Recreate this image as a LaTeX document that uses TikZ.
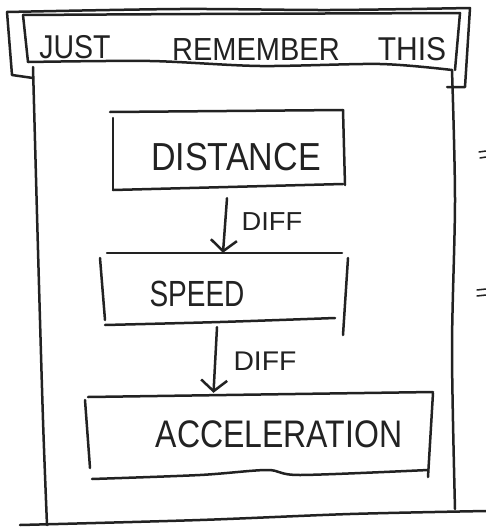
\documentclass[tikz,border=0pt]{standalone}
\usepackage{fontspec}
\setmainfont{Liberation Sans}
\usetikzlibrary{arrows.meta}
\definecolor{ink}{HTML}{222222}
\tikzset{
  pen/.style={draw=ink, line width=2.5pt, line cap=round, line join=round},
  boxnode/.style={draw=none, minimum width=#1, inner sep=0pt},
  lbl/.style={anchor=base, text=ink, inner sep=0pt, font=\fontsize{#1}{#1}\selectfont},
  arr/.style={pen, -{Straight Barb[length=11pt,width=26pt,line width=2.5pt]}},
}
\begin{document}
\begin{tikzpicture}[x=1pt,y=-1pt]
\useasboundingbox (0,0) rectangle (486,530);
\fill[white] (0,0) rectangle (486,530);

% banner: outer frame
\draw[pen] plot[smooth] coordinates {(7,12) (180,9) (330,10) (470,8)};
\draw[pen] (7,12) -- (12,75) -- (33,78);
\draw[pen] (470,8) -- (465,87) -- (447,87);
% banner: inner frame
\draw[pen] plot[smooth] coordinates {(23,15) (200,14) (460,13)};
\draw[pen] (23,15) -- (28,62);
\draw[pen] (460,13) -- (455,70);
\draw[pen] plot[smooth] coordinates {(28,62) (150,61) (260,66) (380,64) (452,70)};
\node[lbl=30] (tjust) at (75,58) {\scalebox{0.95}[1.1]{JUST}};
\node[lbl=29] (trem) at (256,60) {\scalebox{1}[1.1]{REMEMBER}};
\node[lbl=30] (tthis) at (412,60) {\scalebox{1}[1.1]{THIS}};

% main box
\draw[pen] plot[smooth] coordinates {(33,67) (38,250) (43,420) (47,525)};
\draw[pen] plot[smooth] coordinates {(452,70) (455,200) (452,350) (455,509)};
\draw[pen] plot[smooth] coordinates {(20,525) (200,520) (350,514) (486,511)};

% equals marks at the edge
\draw[pen, line width=1.5pt] (479,152) -- (486,151);
\draw[pen, line width=1.5pt] (480,158) -- (486,157);
\draw[pen, line width=1.5pt] (477,290) -- (486,289);
\draw[pen, line width=1.5pt] (477,296) -- (486,295);

% distance box
\node[boxnode=232pt, minimum height=78pt] (dist) at (229,150) {};
\draw[pen] (110,112) -- (343,110);
\draw[pen] (113,118) -- (113,190);
\draw[pen] (113,190) -- (343,184);
\draw[pen] (343,110) -- (345,185);
\node[lbl=34] (tdist) at (236,170) {\scalebox{1}[1.15]{DISTANCE}};

% speed box
\node[boxnode=242pt, minimum height=70pt] (speed) at (224,288) {};
\draw[pen] (107,253) -- (342,253);
\draw[pen] (100,258) -- (105,320);
\draw[pen] plot[smooth] coordinates {(105,325) (220,322) (335,318)};
\draw[pen] (348,258) -- (343,335);
\node[lbl=28] (tspeed) at (197,306) {\scalebox{1}[1.3]{SPEED}};

% acceleration box
\node[boxnode=343pt, minimum height=81pt] (accel) at (259.5,435.5) {};
\draw[pen] (88,397) -- (433,392);
\draw[pen] (85,400) -- (90,468);
\draw[pen] plot[smooth] coordinates {(92,479) (200,475) (267,470) (300,475) (428,470)};
\draw[pen] (433,393) -- (428,477);
\node[lbl=32] (tacc) at (279,447) {\scalebox{1}[1.2]{ACCELERATION}};

% arrows
\draw[arr] ([shift={(-2,9)}]dist.south) -- ([shift={(-1,0)}]speed.north);
\node[lbl=26] (d1) at (272,230) {\scalebox{1.05}[1]{DIFF}};
\draw[arr] ([shift={(-7,4)}]speed.south) -- ([shift={(-46,-2)}]accel.north);
\node[lbl=27] (d2) at (265,370) {\scalebox{1.05}[1]{DIFF}};
\end{tikzpicture}
\end{document}
